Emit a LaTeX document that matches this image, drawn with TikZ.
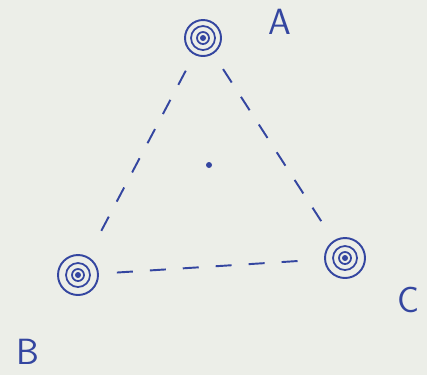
\documentclass[tikz,border=0pt]{standalone}
\definecolor{tintaAzul}{HTML}{3446A0}
\definecolor{papelGris}{HTML}{ECEEE8}
\usepackage{tikz}
\usetikzlibrary{
	arrows.meta,
	positioning,
	calc
}
\tikzset{
	carga/.style={
		circle,
		draw=tintaAzul,
		line width=1.1pt,
		minimum size=36\unitpx,
		inner sep=0pt
	},
	lado/.style={
		tintaAzul,
		line width=1.1pt,
		dash pattern=on 16\unitpx off 17\unitpx,
		shorten >=18\unitpx,
		shorten <=18\unitpx
	},
	etiqueta/.style={
		text=tintaAzul,
		font=\sffamily\huge
	}
}
\newcommand{\unitpx}{*0.2mm}
\newcommand{\Espiral}[1]{%
	\draw[tintaAzul, line width=1pt] (#1) circle (12\unitpx);
	\draw[tintaAzul, line width=1pt] (#1) circle (6\unitpx);
	\fill[tintaAzul] (#1) circle (3\unitpx);
}

\begin{document}
\begin{tikzpicture}[x=0.2mm,y=-0.2mm]
		\fill[papelGris] (0,0) rectangle (427,375);
		\useasboundingbox (0,0) rectangle (427,375);
		\node[carga] (A) at (203,38) {};
		\node[carga, minimum size=40\unitpx] (B) at (78,275) {};
		\node[carga, minimum size=40\unitpx] (C) at (345,258) {};
		\Espiral{A}
		\Espiral{B}
		\Espiral{C}
		\fill[tintaAzul] (209,165) circle (3\unitpx);
		\node[etiqueta] (etA) at (280,22) {A};
		\node[etiqueta] (etB) at (28,352) {B};
		\node[etiqueta] (etC) at (408,300) {C};
		\draw[lado] (A) -- (B);
		\draw[lado] (A) -- (C);
		\draw[lado] (B) -- (C);
	\end{tikzpicture}
\end{document}
